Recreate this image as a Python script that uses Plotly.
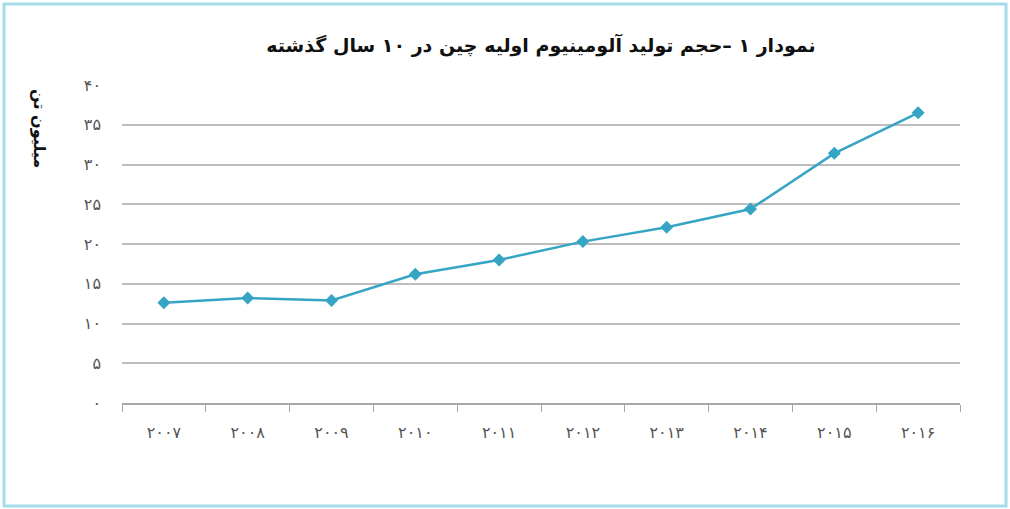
import plotly.graph_objects as go

years = ["۲۰۰۷", "۲۰۰۸", "۲۰۰۹", "۲۰۱۰", "۲۰۱۱", "۲۰۱۲", "۲۰۱۳", "۲۰۱۴", "۲۰۱۵", "۲۰۱۶"]
production = [12.6, 13.2, 12.9, 16.2, 18.0, 20.3, 22.1, 24.4, 31.4, 36.5]
y_tick_vals = [0, 5, 10, 15, 20, 25, 30, 35, 40]
y_tick_text = ["۰", "۵", "۱۰", "۱۵", "۲۰", "۲۵", "۳۰", "۳۵", "۴۰"]
title_text = "نمودار ۱ –حجم تولید آلومینیوم اولیه چین در ۱۰ سال گذشته"
y_title = "میلیون تن"

FONT = "DejaVu Sans, Noto Sans, sans-serif"
LINE_COLOR = "#36a5c4"

fig = go.Figure()
fig.add_trace(go.Scatter(
    x=years, y=production, mode="lines+markers",
    line=dict(color=LINE_COLOR, width=2.5),
    marker=dict(symbol="diamond", size=10, color=LINE_COLOR),
    showlegend=False, hoverinfo="skip",
))

fig.update_layout(
    width=1010, height=509,
    margin=dict(l=122, r=50, t=85, b=106),
    paper_bgcolor="white", plot_bgcolor="white",
    font=dict(family=FONT, color="#444"),
    title=dict(text="<b>" + title_text + "</b>", x=0.5, xref="paper", xanchor="center",
               y=0.91, yanchor="middle",
               font=dict(family=FONT, size=19, color="#111")),
    xaxis=dict(
        type="category", range=[-0.5, len(years) - 0.5],
        tickson="boundaries", ticks="outside", ticklen=7,
        tickcolor="#a6a6a6", tickwidth=1,
        showline=True, linecolor="#a6a6a6", linewidth=1.5,
        showgrid=False, zeroline=False,
        tickfont=dict(size=16, color="#555"), ticklabelstandoff=14,
    ),
    yaxis=dict(
        range=[0, 40], tickvals=y_tick_vals, ticktext=y_tick_text,
        showgrid=True, gridcolor="#bdbdbd", gridwidth=1.5,
        zeroline=False, showline=False, ticks="",
        tickfont=dict(size=16, color="#555"), ticklabelstandoff=20,
    ),
    shapes=[dict(type="rect", xref="paper", yref="paper",
                 x0=(4 - 122) / 838, x1=(1006 - 122) / 838,
                 y0=(403 - 506) / 318, y1=(403 - 4) / 318,
                 line=dict(color="#a6dcea", width=3), fillcolor="rgba(0,0,0,0)", layer="below")],
    annotations=[dict(text="<b>" + y_title + "</b>", textangle=90, xref="paper", yref="paper",
                      x=(40 - 122) / 838, y=(403 - 128) / 318, xanchor="center", yanchor="middle",
                      showarrow=False, font=dict(family=FONT, size=16, color="#111"))],
)

fig.write_html("out.html", config={"displayModeBar": False},
               post_script="document.body.style.margin='0';document.body.style.overflow='hidden';")
